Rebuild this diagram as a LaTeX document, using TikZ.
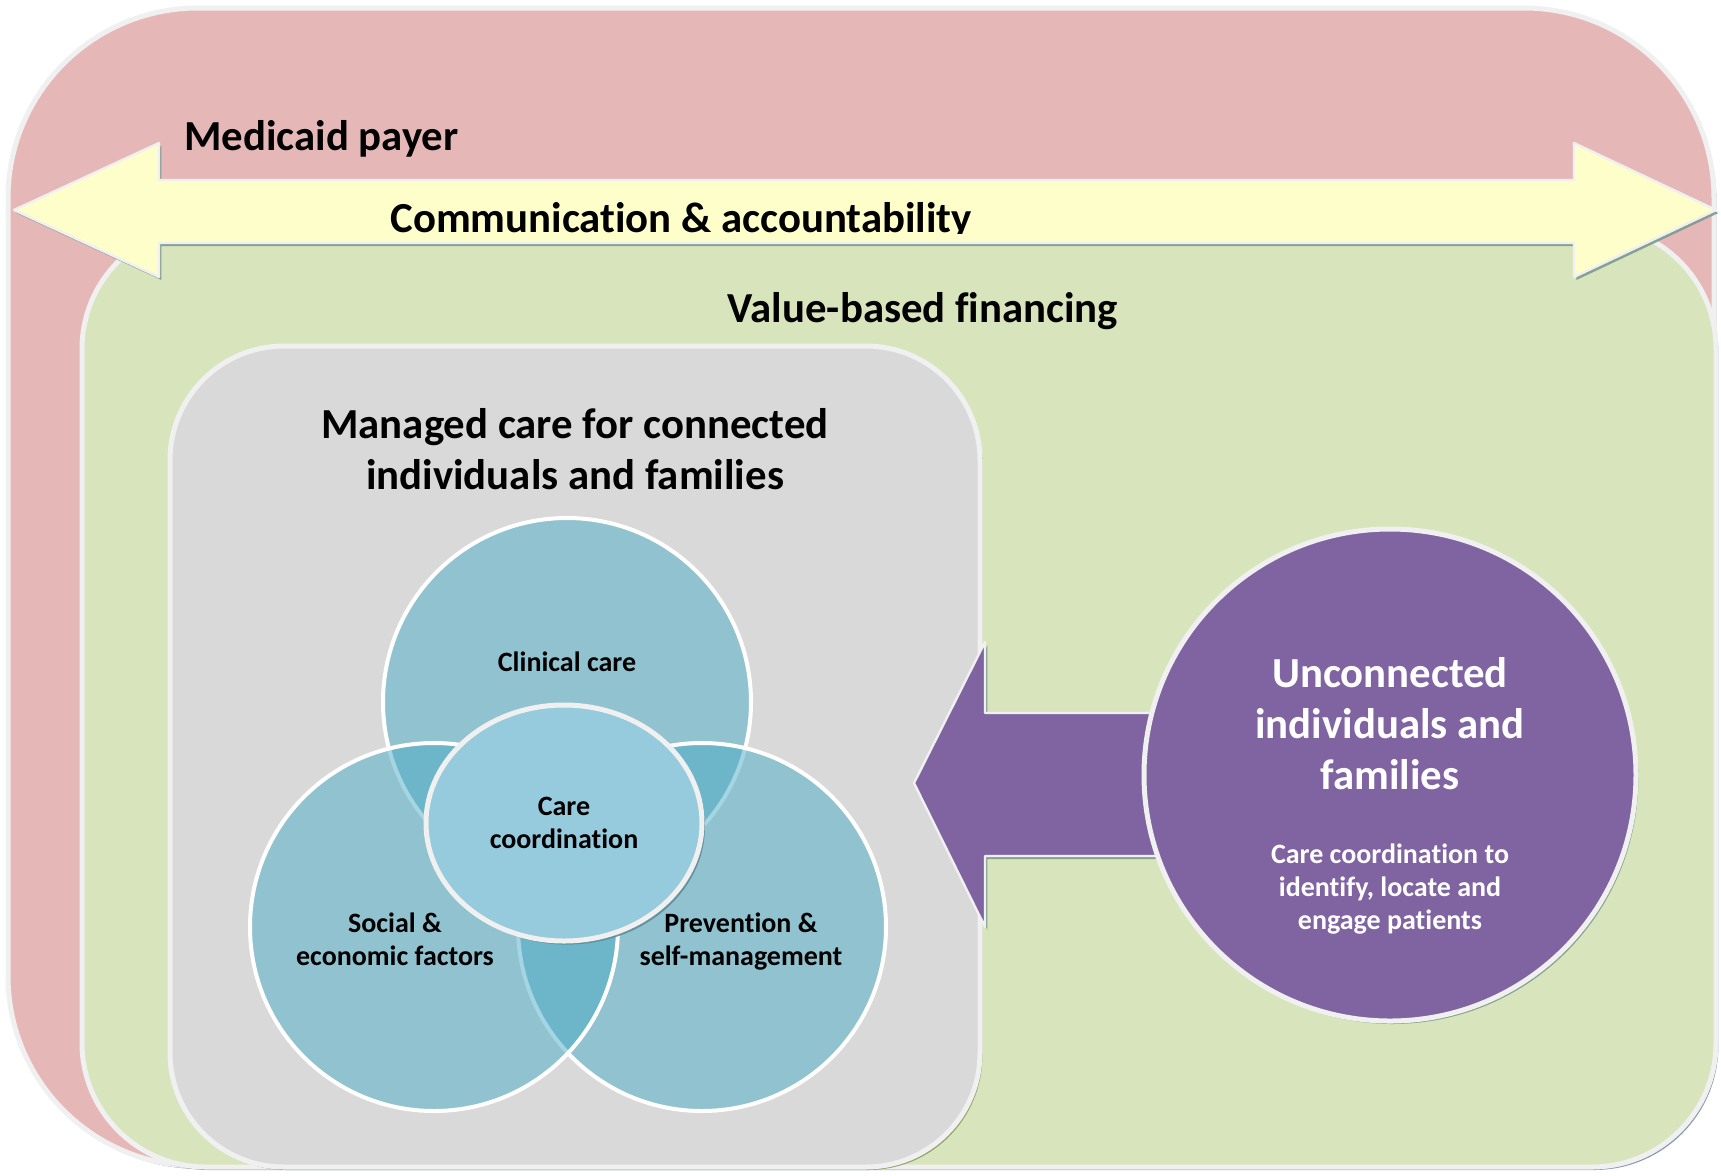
\documentclass[tikz,border=0pt]{standalone}
\usepackage{fontspec}
\setmainfont{Carlito}[Ligatures=NoCommon]
\usetikzlibrary{shadows,shapes.geometric}
\definecolor{payerred}{HTML}{E5B8B7}
\definecolor{valuegreen}{HTML}{D8E4BC}
\definecolor{commyellow}{HTML}{FEFECB}
\definecolor{managedgray}{HTML}{D9D9D9}
\definecolor{vennaqua}{HTML}{4BACC6}
\definecolor{vennlight}{HTML}{96CBDD}
\definecolor{unconnpurple}{HTML}{8064A2}
\definecolor{rimwhite}{HTML}{F0F0F0}
\definecolor{shadowblue}{HTML}{7A8FA6}
\definecolor{shadowgreen}{HTML}{7D9A8E}
\definecolor{shadowolive}{HTML}{8C9C60}
\definecolor{shadowteal}{HTML}{5E8E9C}
\tikzset{
  frame/.style={draw=rimwhite, line width=2.5pt,
    drop shadow={shadow xshift=1.2pt, shadow yshift=-1.5pt, fill=#1, opacity=.9}},
  frame/.default=shadowblue,
  bigtext/.style={font=\fontsize{21.4}{25.5}\selectfont\bfseries, align=center, inner sep=0pt},
  smalltext/.style={font=\fontsize{14}{16.5}\selectfont\bfseries, align=center, inner sep=0pt},
  venncircle/.style={circle, minimum size=184pt, inner sep=0pt, fill=vennaqua,
    fill opacity=.5, draw=white, line width=2pt},
}

\begin{document}
\begin{tikzpicture}[x=0.5pt,y=-0.5pt,line join=round]
  \useasboundingbox (0,0) rectangle (1721,1175);

  % payer and financing frames
  \draw[frame, fill=payerred, rounded corners=95pt] (8,8) rectangle (1714,1166);
  \draw[frame, fill=valuegreen, rounded corners=62pt] (82,225) rectangle (1716,1167);

  % communication arrow
  \draw[frame=shadowgreen, fill=commyellow, line width=1.2pt]
    (14,210) -- (159,143) -- (159,180) -- (1574,180) -- (1574,143) -- (1716,210)
    -- (1574,277) -- (1574,243) -- (159,243) -- (159,277) -- cycle;

  \node[bigtext, anchor=base west] (payer) at (184,150) {Medicaid payer};
  \begin{scope}
    \clip (0,0) rectangle (1721,233);
    \node[bigtext, anchor=base west] (comm) at (390,232) {Communication \& accountability};
  \end{scope}
  \node[bigtext, anchor=base] (value) at (923,322) {Value-based financing};

  % managed care
  \draw[frame=shadowolive, fill=managedgray, rounded corners=57pt] (170,346) rectangle (980,1167);
  \node[bigtext] (managed) at (575,449) {Managed care for connected\\individuals and families};

  \node[venncircle] (clinical) at (567,702) {};
  \node[venncircle] (prevention) at (702,927) {};
  \node[venncircle] (social) at (434,927) {};
  \node[ellipse, minimum width=138pt, minimum height=118pt, fill=vennlight,
    draw=rimwhite, line width=2.5pt, smalltext,
    drop shadow={shadow xshift=1.5pt, shadow yshift=-1.8pt, fill=shadowteal, opacity=.9}]
    (carecoord) at (564,823) {Care\\coordination};

  \node[smalltext] (clinicaltext) at (567,662) {Clinical care};
  \node[smalltext] (socialtext) at (395,939) {Social \&\\economic factors};
  \node[smalltext] (preventiontext) at (741,942) {Prevention \&\\self-management};

  % unconnected
  \draw[frame=shadowgreen, fill=unconnpurple, line width=1.2pt]
    (914,783) -- (985,642) -- (985,713) -- (1160,713) -- (1160,856) -- (985,856) -- (985,927) -- cycle;
  \node[circle, minimum size=246pt, inner sep=0pt, fill=unconnpurple, frame=shadowgreen]
    (unconnected) at (1390,775) {};
  \node[bigtext, text=white] (unconntitle) at (1390,724) {Unconnected\\individuals and\\families};
  \node[smalltext, text=white] (unconntext) at (1390,889) {Care coordination to\\identify, locate and\\engage patients};
\end{tikzpicture}
\end{document}
